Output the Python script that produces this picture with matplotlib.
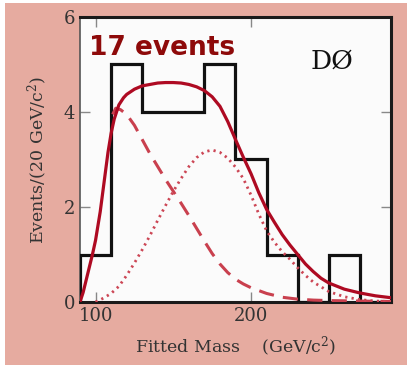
import matplotlib
matplotlib.use("Agg")
import matplotlib.pyplot as plt
from matplotlib.patches import Rectangle

plt.rcParams["mathtext.fontset"] = "dejavuserif"

# histogram of fitted masses, 20 GeV bins
bin_edges = [90, 110, 130, 150, 170, 190, 210, 230, 250, 270, 290]
counts = [1, 5, 4, 4, 5, 3, 1, 0, 1, 0]

# total fit (solid)
fit_mass = [90, 92, 95, 98, 100, 103, 105, 108, 110, 112, 115, 118, 120, 125, 130, 135,
            140, 145, 150, 155, 160, 165, 170, 175, 180, 185, 190, 195, 200, 205,
            210, 215, 220, 225, 230, 235, 240, 245, 250, 260, 270, 280, 290]
fit_total = [0.0, 0.2, 0.6, 1.0, 1.3, 1.9, 2.4, 3.15, 3.55, 3.85, 4.15, 4.3, 4.37,
             4.48, 4.55, 4.58, 4.61, 4.62, 4.62, 4.61, 4.58, 4.53, 4.45, 4.32, 4.12,
             3.8, 3.42, 3.05, 2.7, 2.3, 1.95, 1.68, 1.42, 1.2, 1.0, 0.8, 0.64, 0.5,
             0.4, 0.27, 0.19, 0.13, 0.09]

# background component (dashed)
bkg_mass = [111, 113, 116, 120, 125, 130, 135, 140, 145, 150, 155, 160, 165, 170,
            175, 180, 185, 190, 195, 200, 210, 220, 230, 240, 250, 270, 290]
bkg = [3.95, 4.08, 4.05, 3.95, 3.72, 3.42, 3.12, 2.85, 2.58, 2.33, 2.08, 1.82, 1.55,
       1.28, 1.02, 0.8, 0.62, 0.48, 0.38, 0.3, 0.18, 0.1, 0.06, 0.04, 0.03, 0.02, 0.01]

# signal component (dotted)
sig_mass = [100, 105, 110, 115, 120, 125, 130, 135, 140, 145, 150, 155, 160, 165,
            170, 175, 180, 185, 190, 195, 200, 205, 210, 215, 220, 225, 230, 235,
            240, 250, 260, 270, 280, 290]
sig = [0.0, 0.08, 0.18, 0.33, 0.56, 0.82, 1.1, 1.4, 1.72, 2.03, 2.33, 2.6, 2.85, 3.04,
       3.16, 3.2, 3.15, 3.03, 2.84, 2.6, 2.25, 1.85, 1.5, 1.26, 1.06, 0.9, 0.72, 0.56,
       0.42, 0.22, 0.11, 0.05, 0.02, 0.01]

fig = plt.figure(figsize=(4.07, 3.65), dpi=100, facecolor="white")
fig.patches.append(Rectangle((5 / 407, 0), 1, 362 / 365, transform=fig.transFigure,
                             facecolor="#E6ABA0", edgecolor="none", zorder=-10))

ax = fig.add_axes([80 / 407, 63 / 365, 311 / 407, 285 / 365])
ax.set_facecolor("#FBFBFB")

ax.stairs(counts, bin_edges, color="#111111", lw=2.3, zorder=3)
ax.plot(bkg_mass, bkg, color="#C9404E", lw=2.2, dashes=(5, 3), zorder=4)
ax.plot(sig_mass, sig, color="#CC4655", lw=2.0, dashes=(0.8, 1.5), zorder=4)
ax.plot(fit_mass, fit_total, color="#AE0A22", lw=2.3, zorder=5)

ax.set_xlim(90, 290)
ax.set_ylim(0, 6)
ax.set_xticks([100, 200])
ax.set_yticks([0, 2, 4, 6])

for side in ["top", "right", "bottom"]:
    ax.spines[side].set_linewidth(2.2)
    ax.spines[side].set_color("#1a1a1a")
ax.spines["left"].set_linewidth(1.2)
ax.spines["left"].set_color("#555555")

ax.tick_params(direction="in", length=7, width=1, color="#888888",
               top=True, right=True, labelsize=13, labelcolor="#333333")
for lab in ax.get_xticklabels() + ax.get_yticklabels():
    lab.set_family("DejaVu Serif")

ax.set_xlabel("Fitted Mass    (GeV/c$^2$)", family="DejaVu Serif", fontsize=12.5,
              color="#333333", labelpad=7)
ax.set_ylabel("Events/(20 GeV/c$^2$)", family="DejaVu Serif", fontsize=12.5,
              color="#333333", labelpad=10)

ax.text(95.5, 5.2, "17 events", family="DejaVu Sans", fontweight="bold", fontsize=19,
        color="#8E0A0A", va="baseline", ha="left", zorder=6)
ax.text(252, 4.92, "DØ", family="DejaVu Serif", fontsize=19, color="#111111",
        va="baseline", ha="center", zorder=6)

fig.savefig("out.png", dpi=100, facecolor=fig.get_facecolor())
